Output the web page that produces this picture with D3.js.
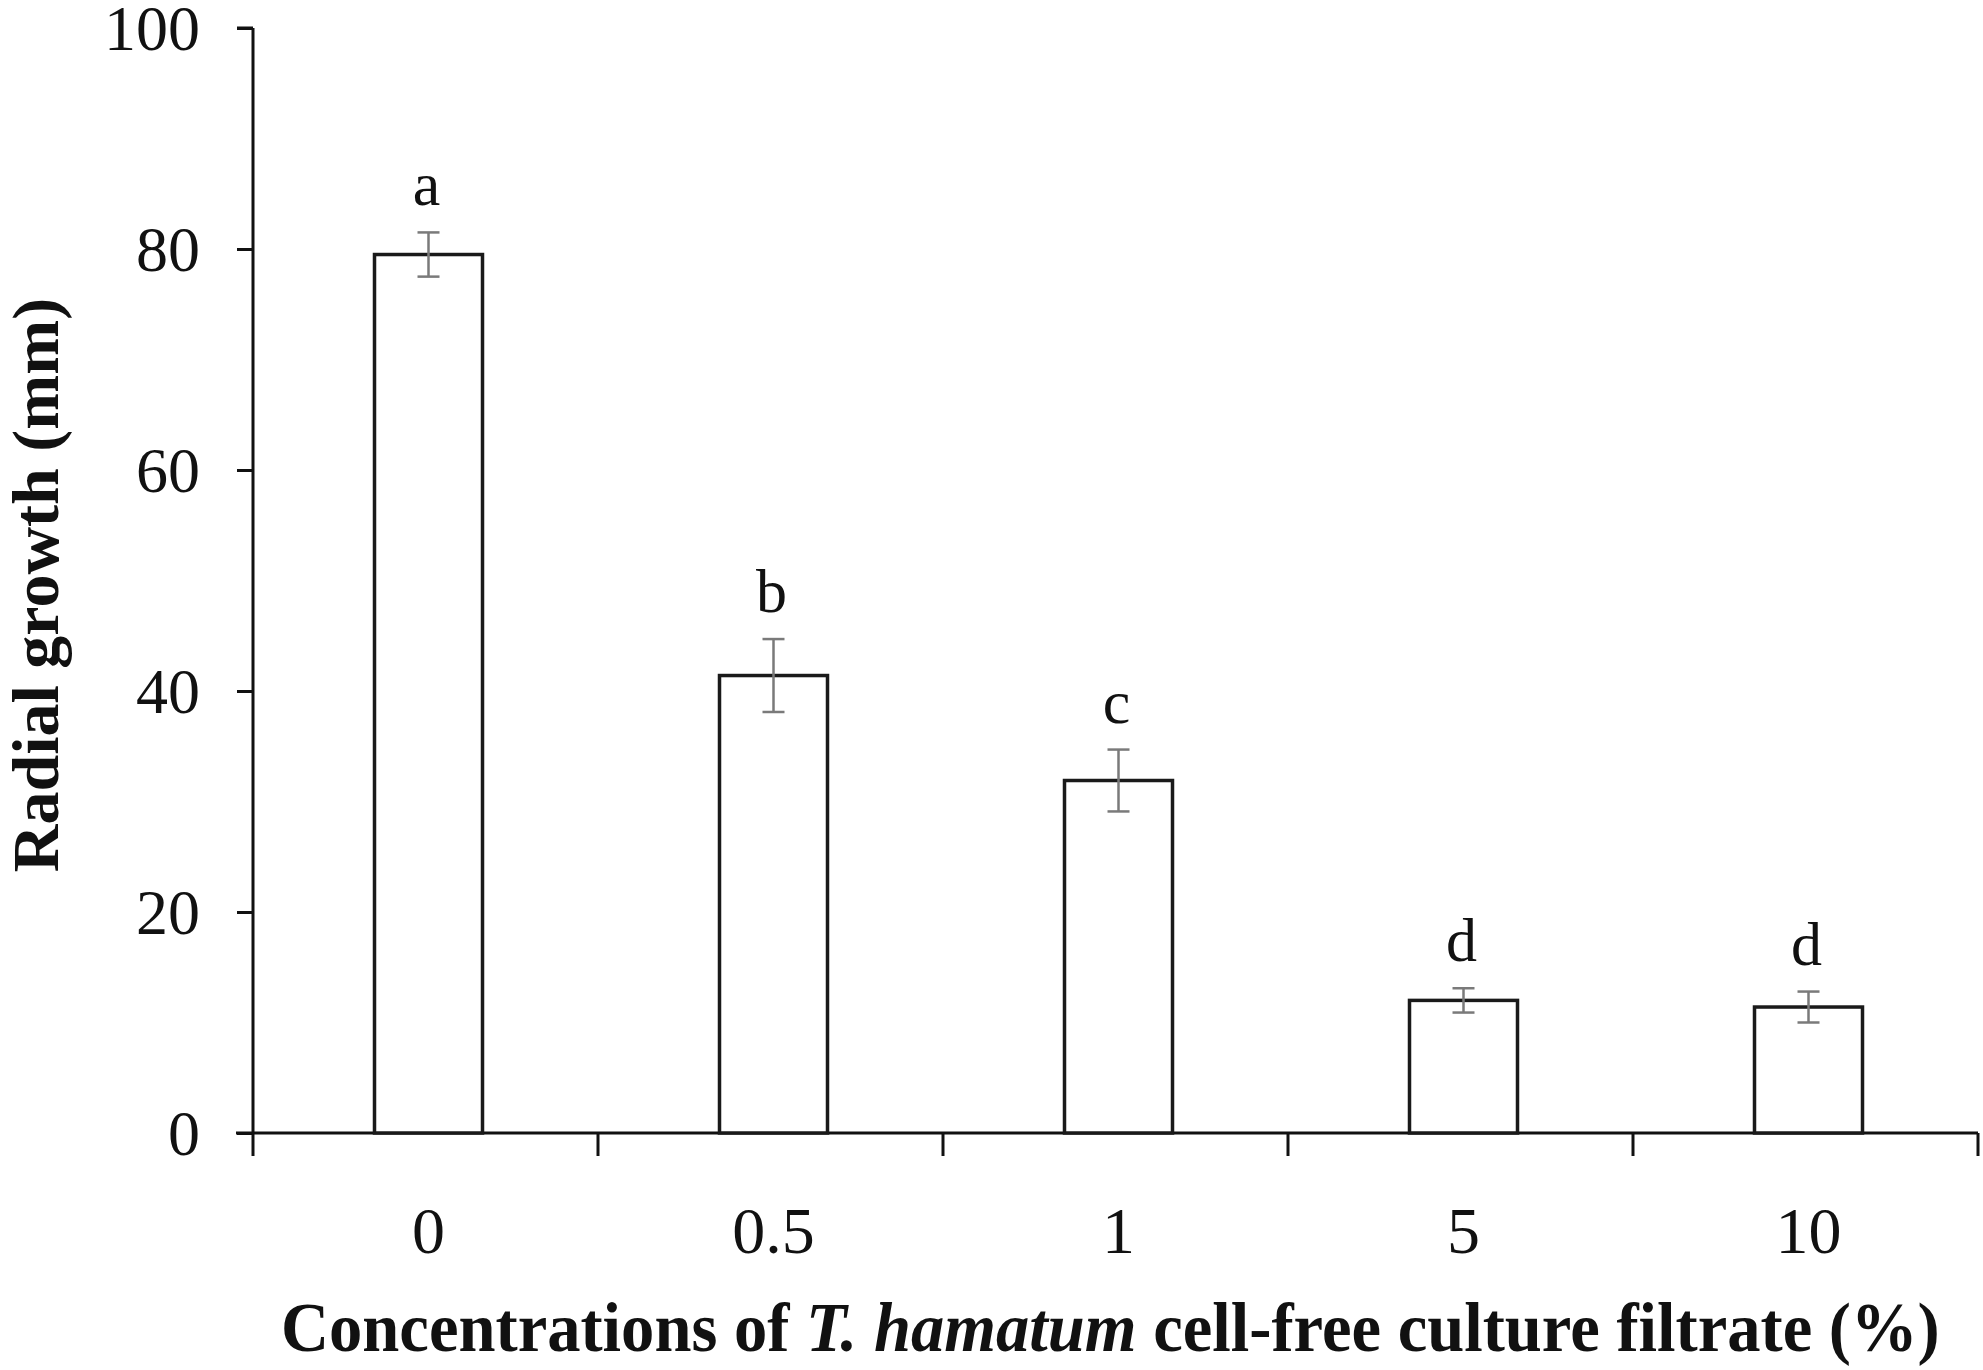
<!DOCTYPE html>
<html><head><meta charset="utf-8">
<script src="https://cdn.jsdelivr.net/npm/d3@7/dist/d3.min.js"></script>
<style>html,body{margin:0;padding:0;background:#fff;}svg{display:block;}</style>
</head><body>
<svg id="chart" width="1983" height="1370"></svg>
<script>
const categories = ["0", "0.5", "1", "5", "10"];
const means = [79.5, 41.4, 31.9, 12.0, 11.4];
const errors = [2.0, 3.3, 2.8, 1.1, 1.4];
const letters = ["a", "b", "c", "d", "d"];
const yTicks = [0, 20, 40, 60, 80, 100];

(function () {
const font = "'Liberation Serif', 'Times New Roman', serif";
const svg = d3.select("#chart");
const pL = 253, pR = 1978, pT = 28, pB = 1133;

const x = d3.scaleBand().domain(categories).range([pL, pR]).paddingInner(0).paddingOuter(0);
const y = d3.scaleLinear().domain([0, 100]).range([pB, pT]);
const barW = 108, off = 3;
const cx = c => x(c) + x.bandwidth() / 2 + off;

// y axis
const yAxis = d3.axisLeft(y).tickValues(yTicks).tickSize(16).tickPadding(37).tickFormat(d3.format("d"));
const gy = svg.append("g").attr("transform", `translate(${pL},0)`).call(yAxis);
gy.select(".domain").attr("stroke", "#111").attr("stroke-width", 3).attr("d", `M0,${pT}H-16M0,${pT}V${pB}`);
gy.selectAll(".tick line").attr("stroke", "#111").attr("stroke-width", 3);
gy.selectAll(".tick text").attr("font-family", font).attr("font-size", 64).attr("fill", "#111").attr("dy", "0.34em");

// x axis: labels at band centres
const xAxis = d3.axisBottom(x).tickSize(0).tickPadding(75);
const gx = svg.append("g").attr("transform", `translate(0,${pB})`).call(xAxis);
gx.select(".domain").remove();
gx.selectAll(".tick text").attr("font-family", font).attr("font-size", 66).attr("fill", "#111")
  .attr("dy", 0).attr("y", 120).attr("transform", `translate(${off},0)`);
// x axis line and boundary ticks
const bounds = categories.map(c => x(c)).concat([pR]);
svg.append("line").attr("x1", pL - 17).attr("x2", pR).attr("y1", pB).attr("y2", pB)
  .attr("stroke", "#111").attr("stroke-width", 3);
svg.selectAll(".xb").data(bounds).join("line").attr("class", "xb")
  .attr("x1", d => d).attr("x2", d => d).attr("y1", pB).attr("y2", pB + 23)
  .attr("stroke", "#111").attr("stroke-width", 3);

// bars
const data = categories.map((c, i) => ({c, m: means[i], e: errors[i], l: letters[i]}));
svg.selectAll(".bar").data(data).join("rect").attr("class", "bar")
  .attr("x", d => cx(d.c) - barW / 2).attr("width", barW)
  .attr("y", d => y(d.m)).attr("height", d => y(0) - y(d.m))
  .attr("fill", "#fff").attr("stroke", "#1a1a1a").attr("stroke-width", 3.5);

// error bars
const eg = svg.selectAll(".err").data(data).join("g").attr("class", "err")
  .attr("stroke", "#7a7a7a").attr("stroke-width", 2.5);
eg.append("line").attr("x1", d => cx(d.c)).attr("x2", d => cx(d.c))
  .attr("y1", d => y(d.m + d.e)).attr("y2", d => y(d.m - d.e));
eg.append("line").attr("x1", d => cx(d.c) - 11).attr("x2", d => cx(d.c) + 11)
  .attr("y1", d => y(d.m + d.e)).attr("y2", d => y(d.m + d.e));
eg.append("line").attr("x1", d => cx(d.c) - 11).attr("x2", d => cx(d.c) + 11)
  .attr("y1", d => y(d.m - d.e)).attr("y2", d => y(d.m - d.e));

// letters
svg.selectAll(".lt").data(data).join("text").attr("class", "lt")
  .attr("x", d => cx(d.c) - 2).attr("y", d => y(d.m + d.e) - 27)
  .attr("text-anchor", "middle").attr("font-family", font).attr("font-size", 62).attr("fill", "#111")
  .text(d => d.l);

// y title
svg.append("text").attr("transform", "translate(58,585) rotate(-90)")
  .attr("text-anchor", "middle").attr("font-family", font).attr("font-size", 66).attr("font-weight", "bold")
  .attr("fill", "#111").text("Radial growth (mm)");

// x title (condensed horizontally to the reference's width)
const tg = svg.append("g");
const xt = tg.append("text").attr("x", 0).attr("y", 0)
  .attr("font-family", font).attr("font-size", 70).attr("font-weight", "bold").attr("fill", "#111");
xt.append("tspan").text("Concentrations of ");
xt.append("tspan").attr("font-style", "italic").text("T. hamatum");
xt.append("tspan").text(" cell-free culture filtrate (%)");
const natW = xt.node().getComputedTextLength();
const sx = 1659 / natW;
tg.attr("transform", `translate(281,1351) scale(${sx},1)`);
})();
</script>
</body></html>
